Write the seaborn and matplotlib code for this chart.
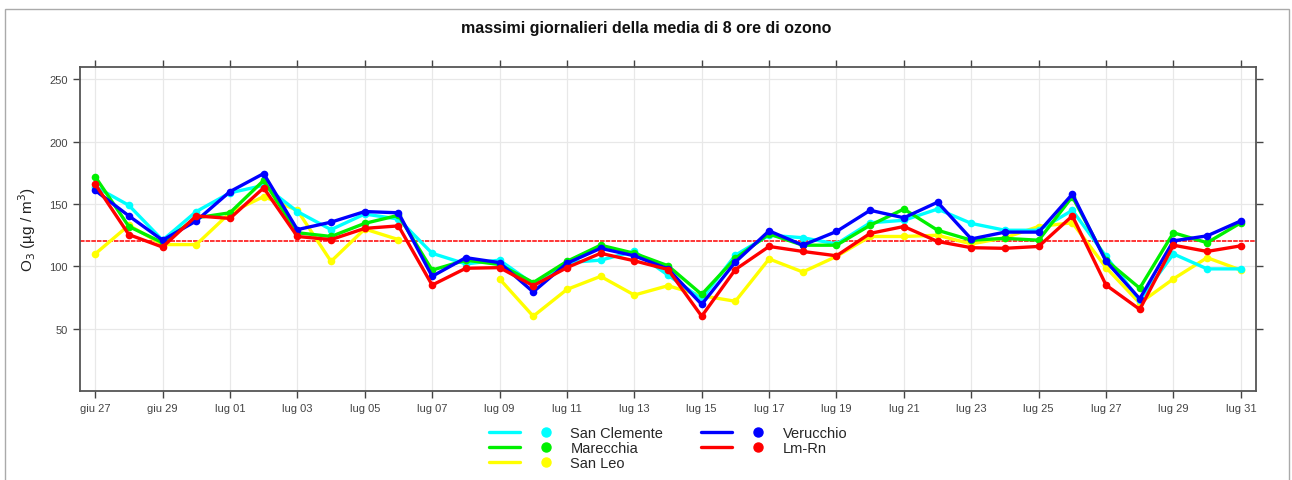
import numpy as np
import pandas as pd
import matplotlib
matplotlib.use("Agg")
import matplotlib.pyplot as plt
import seaborn as sns
from matplotlib.lines import Line2D
from matplotlib.legend_handler import HandlerTuple
from matplotlib.patches import Rectangle

# ---- data ----
days = list(range(35))
tick_days = list(range(0, 35, 2))
tick_labels = ["giu 27", "giu 29", "lug 01", "lug 03", "lug 05", "lug 07", "lug 09",
               "lug 11", "lug 13", "lug 15", "lug 17", "lug 19", "lug 21", "lug 23",
               "lug 25", "lug 27", "lug 29", "lug 31"]

san_clemente = [164, 149, 121, 144, 159, 165, 144, 129.5, 142, 138, 110.5, 102, 105, 86, 103,
                105, 112, 93, 74, 109, 125, 123, 118, 135, 137, 146, 134.5, 129, 129, 145,
                108, 73, 110, 98, 98]
marecchia = [172, 132, 119, 139, 143, 169, 127, 124, 134.5, 141, 97, 105, 101.5, 87, 104,
             117, 110.5, 100.5, 77.5, 106.5, 126, 117, 117, 133, 146, 129, 121, 122.5, 121, 156,
             105, 82.5, 127, 119, 135]
san_leo = [110, 133, 117.5, 117.5, 143, 156, 145, 104, 130, 121.5, np.nan, np.nan, 90, 60, 81.5,
           92, 77, 84.5, 76.5, 72, 106, 95.5, 108, 124, 124, 125, 118, 123, 132, 135,
           99, 70.5, 90, 107, 97]
verucchio = [161, 140.5, 121, 136.5, 160, 174.5, 129.5, 135.5, 144, 143, 92, 107, 103, 79.5, 102.5,
             114.5, 108.5, 98, 69.5, 103.5, 128.5, 117, 128, 145, 139, 151.5, 122, 127.5, 127.5, 158,
             104, 74, 120.5, 124.5, 136.5]
lm_rn = [166, 125.5, 115.5, 140.5, 138.5, 163, 124, 121.5, 130.5, 132.5, 85, 98.5, 99, 84.5, 99,
         110.5, 104.5, 97.5, 60, 97.5, 116, 112, 108.5, 126.5, 132, 120, 115, 114.5, 116, 140.5,
         85, 65.5, 117, 112, 116.5]
threshold = 120

series_names = ["San Clemente", "Marecchia", "San Leo", "Verucchio", "Lm-Rn"]
series_vals = [san_clemente, marecchia, san_leo, verucchio, lm_rn]
colors = {"San Clemente": "#00FFFF", "Marecchia": "#00F000", "San Leo": "#FFFF00",
          "Verucchio": "#0000FF", "Lm-Rn": "#FF0000"}
draw_order = ["San Leo", "San Clemente", "Marecchia", "Verucchio", "Lm-Rn"]

sns.set_theme(style="white")
plt.rcParams['font.family'] = ['Liberation Sans', 'DejaVu Sans']

fig = plt.figure(figsize=(12.92, 4.81), dpi=100)
ax = fig.add_axes([80/1292, (481-392)/481, (1256-80)/1292, (392-68)/481])

# grid
for d in tick_days:
    ax.axvline(d, color="#e8e8e8", lw=0.9, zorder=0)
for v in [50, 100, 150, 200, 250]:
    ax.axhline(v, color="#e8e8e8", lw=0.9, zorder=0)

ax.axhline(threshold, color="#FF0000", lw=1.1, ls=(0, (3, 0.7)), zorder=1)

data = {n: v for n, v in zip(series_names, series_vals)}
for name in draw_order:
    s = pd.DataFrame({"day": days, "val": data[name]})
    seg_id = s["val"].isna().cumsum()
    s = s.assign(seg=seg_id).dropna()
    for _, g in s.groupby("seg"):
        sns.lineplot(data=g, x="day", y="val", ax=ax, color=colors[name], lw=2.4,
                     marker="o", markersize=5.5, markeredgewidth=0, estimator=None,
                     legend=False, zorder=3)

ax.set_xlim(-0.45, 34.45)
ax.set_ylim(0, 260)
ax.set_xticks(tick_days)
ax.set_xticklabels(tick_labels)
ax.set_yticks([50, 100, 150, 200, 250])
ax.set_xlabel("")
ax.set_ylabel("O$_3$ (µg / m$^3$)", fontsize=11, color="#222222", labelpad=8)
ax.tick_params(axis="both", direction="out", length=5, width=1, color="#444444",
               labelsize=8, labelcolor="#444444", pad=4,
               top=True, right=True, bottom=True, left=True,
               labeltop=False, labelright=False)
for sp in ax.spines.values():
    sp.set_color("#555555")
    sp.set_linewidth(1.3)

fig.text(0.5, 1 - 28/481, "massimi giornalieri della media di 8 ore di ozono",
         ha="center", va="center", fontsize=11.5, fontweight="bold", color="#111111")

handles = []
for name in series_names:
    ln = Line2D([], [], color=colors[name], lw=2.4)
    dot = Line2D([], [], color=colors[name], lw=0, marker="o", markersize=6.5)
    handles.append((ln, dot))
fig.legend(handles, series_names, ncol=2, loc="center", bbox_to_anchor=(668/1292, 1 - 449/481),
           frameon=False, fontsize=10.5, handlelength=5.0, handletextpad=0.6,
           columnspacing=2.6, labelspacing=0.05,
           handler_map={tuple: HandlerTuple(ndivide=None, pad=0.7)})

fig.patches.append(Rectangle((5/1292, -0.1), (1289-5)/1292, 1.1 - 10/481, transform=fig.transFigure,
                             fill=False, edgecolor="#aaaaaa", lw=1.0))

fig.savefig("out.png", dpi=100)
